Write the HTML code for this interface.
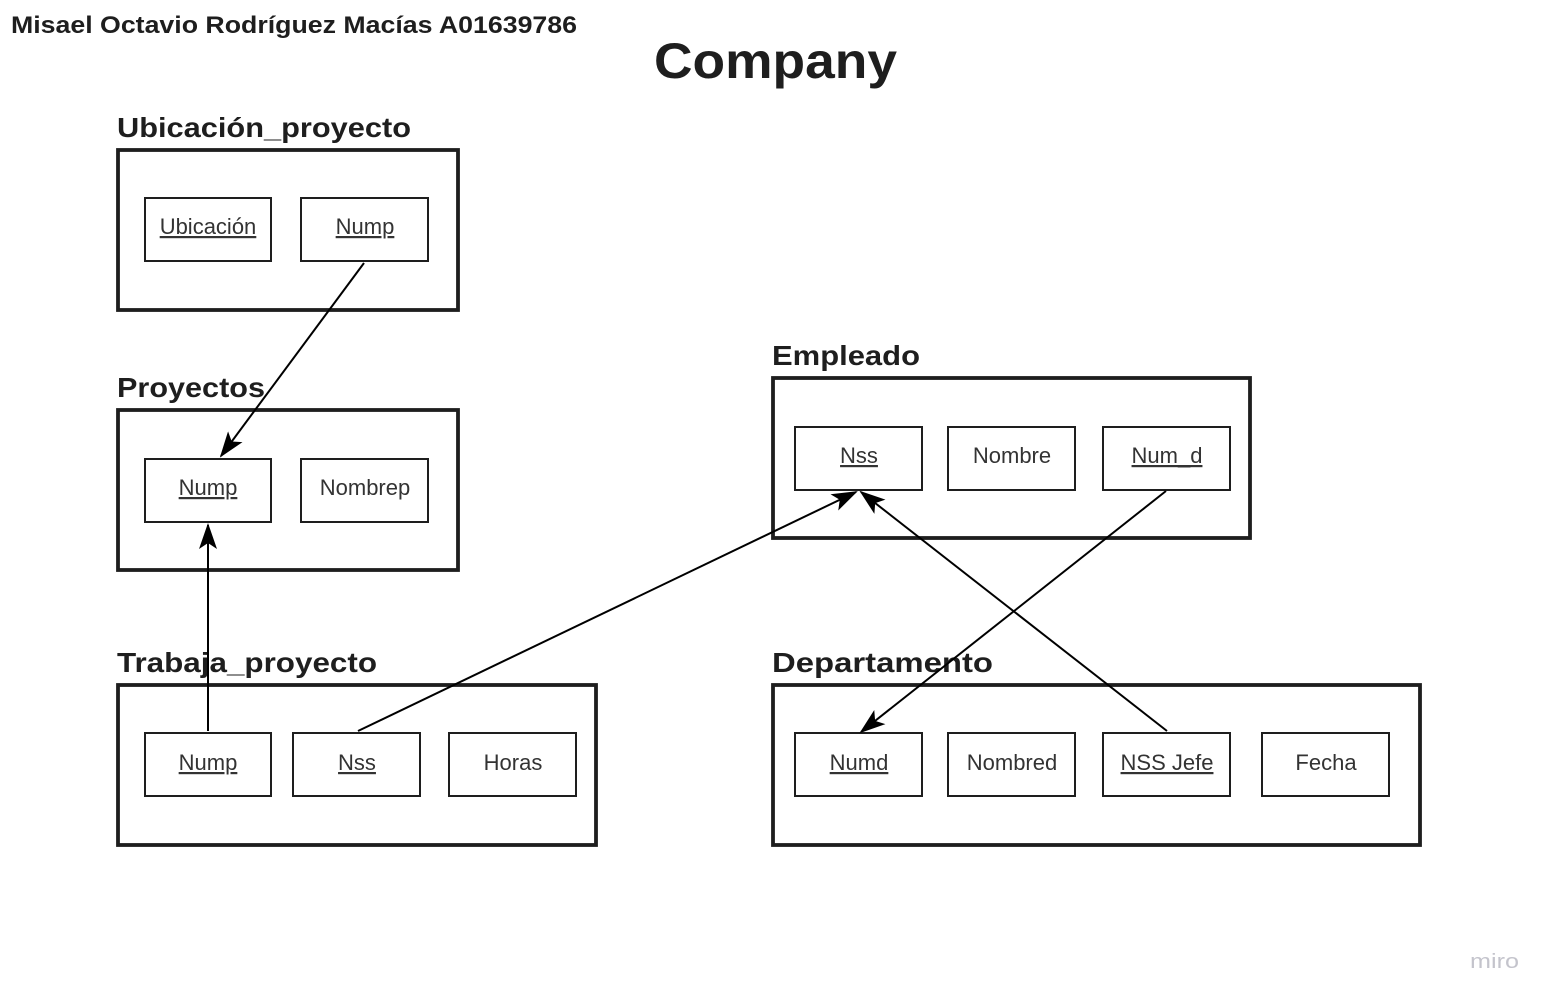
<!DOCTYPE html>
<html><head><meta charset="utf-8"><style>
html,body{margin:0;padding:0;background:#fff;}
svg{display:block;font-family:"Liberation Sans",sans-serif;}
.b{font-weight:bold;fill:#1e1e1e;}
.t{font-size:22px;fill:#333;text-anchor:middle;}
.o{fill:none;stroke:#1e1e1e;stroke-width:3.8;}
.i{fill:none;stroke:#1e1e1e;stroke-width:2;}
.l{stroke:#000;stroke-width:2;fill:none;}
</style></head><body>
<svg width="1555" height="1004" viewBox="0 0 1555 1004">
<defs><marker id="a" markerWidth="26" markerHeight="18" refX="24" refY="9" orient="auto" markerUnits="userSpaceOnUse"><path d="M0,0 L26,9 L0,18 L6,9 Z" fill="#000"/></marker></defs>
<text class="b" x="11" y="33" font-size="24" textLength="566" lengthAdjust="spacingAndGlyphs">Misael Octavio Rodríguez Macías A01639786</text>
<text class="b" x="654" y="78" font-size="50" textLength="243" lengthAdjust="spacingAndGlyphs">Company</text>

<text class="b" x="117" y="137" font-size="28" textLength="294" lengthAdjust="spacingAndGlyphs">Ubicación_proyecto</text>
<rect class="o" x="118" y="150" width="340" height="160"/>
<rect class="i" x="145" y="198" width="126" height="63"/><text class="t" x="208" y="234" text-decoration="underline">Ubicación</text>
<rect class="i" x="301" y="198" width="127" height="63"/><text class="t" x="365" y="234" text-decoration="underline">Nump</text>

<text class="b" x="117" y="397" font-size="28" textLength="148" lengthAdjust="spacingAndGlyphs">Proyectos</text>
<rect class="o" x="118" y="410" width="340" height="160"/>
<rect class="i" x="145" y="459" width="126" height="63"/><text class="t" x="208" y="495" text-decoration="underline">Nump</text>
<rect class="i" x="301" y="459" width="127" height="63"/><text class="t" x="365" y="495">Nombrep</text>

<text class="b" x="772" y="365" font-size="28" textLength="148" lengthAdjust="spacingAndGlyphs">Empleado</text>
<rect class="o" x="773" y="378" width="477" height="160"/>
<rect class="i" x="795" y="427" width="127" height="63"/><text class="t" x="859" y="463" text-decoration="underline">Nss</text>
<rect class="i" x="948" y="427" width="127" height="63"/><text class="t" x="1012" y="463">Nombre</text>
<rect class="i" x="1103" y="427" width="127" height="63"/><text class="t" x="1167" y="463" text-decoration="underline">Num_d</text>

<text class="b" x="117" y="672" font-size="28" textLength="260" lengthAdjust="spacingAndGlyphs">Trabaja_proyecto</text>
<rect class="o" x="118" y="685" width="478" height="160"/>
<rect class="i" x="145" y="733" width="126" height="63"/><text class="t" x="208" y="770" text-decoration="underline">Nump</text>
<rect class="i" x="293" y="733" width="127" height="63"/><text class="t" x="357" y="770" text-decoration="underline">Nss</text>
<rect class="i" x="449" y="733" width="127" height="63"/><text class="t" x="513" y="770">Horas</text>

<text class="b" x="772" y="672" font-size="28" textLength="221" lengthAdjust="spacingAndGlyphs">Departamento</text>
<rect class="o" x="773" y="685" width="647" height="160"/>
<rect class="i" x="795" y="733" width="127" height="63"/><text class="t" x="859" y="770" text-decoration="underline">Numd</text>
<rect class="i" x="948" y="733" width="127" height="63"/><text class="t" x="1012" y="770">Nombred</text>
<rect class="i" x="1103" y="733" width="127" height="63"/><text class="t" x="1167" y="770" text-decoration="underline">NSS Jefe</text>
<rect class="i" x="1262" y="733" width="127" height="63"/><text class="t" x="1326" y="770">Fecha</text>

<line class="l" x1="364" y1="263" x2="221" y2="456" marker-end="url(#a)"/>
<line class="l" x1="208" y1="731" x2="208" y2="525" marker-end="url(#a)"/>
<line class="l" x1="358" y1="731" x2="856" y2="492" marker-end="url(#a)"/>
<line class="l" x1="1167" y1="731" x2="861" y2="492" marker-end="url(#a)"/>
<line class="l" x1="1166" y1="491" x2="861" y2="732" marker-end="url(#a)"/>

<text x="1470" y="968" font-size="20" fill="#c4c4cc" textLength="49" lengthAdjust="spacingAndGlyphs">miro</text>
</svg>
</body></html>
